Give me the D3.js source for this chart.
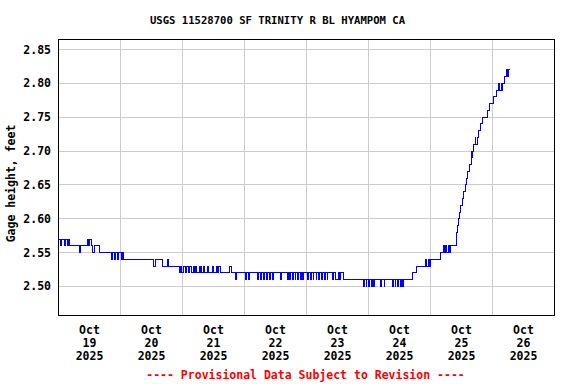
<!DOCTYPE html>
<html>
<head>
<meta charset="utf-8">
<script src="https://cdn.jsdelivr.net/npm/d3@7"></script>
<style>
  body { margin: 0; background: #fff; }
  text { font-family: "DejaVu Sans Mono", "Liberation Mono", monospace; font-weight: bold; }
</style>
</head>
<body>
<div id="chart-area"></div>
<script>

// Gage height readings, [hours after Oct 19 2025 00:00, feet], each value holds until the next one
var gageSteps = [
    [0, 2.57], [0.6, 2.56], [1.0, 2.57], [2.2, 2.56], [2.6, 2.57], [3.6, 2.56], [4.0, 2.57], [4.45, 2.56],
    [8.1, 2.55], [8.7, 2.56],
    [11.2, 2.57], [11.6, 2.56], [12.0, 2.57], [12.7, 2.56],
    [13.2, 2.55], [13.8, 2.56],
    [16.0, 2.55],
    [20.5, 2.54], [20.9, 2.55], [21.8, 2.54], [22.2, 2.55], [23.0, 2.54], [23.4, 2.55], [24.2, 2.54], [24.6, 2.55], [25.0, 2.54],
    [36.8, 2.53], [37.5, 2.54], [40.1, 2.53], [42.0, 2.54], [42.4, 2.53],
    [46.8, 2.52], [47.3, 2.53], [47.6, 2.52], [48.4, 2.53], [49.2, 2.52], [49.5, 2.53], [50.3, 2.52], [50.9, 2.53], [51.5, 2.52], [52.3, 2.53], [52.6, 2.52], [53.2, 2.53], [53.6, 2.52],
    [54.4, 2.53], [54.8, 2.52], [55.0, 2.53], [55.3, 2.52],
    [56.1, 2.53], [56.5, 2.52], [57.5, 2.53], [58.1, 2.52],
    [59.6, 2.53], [60.0, 2.52], [61.2, 2.53], [61.6, 2.52], [62.0, 2.53], [62.7, 2.52],
    [66.2, 2.53], [66.8, 2.52],
    [68.7, 2.51], [69.0, 2.52], [72.5, 2.51], [72.8, 2.52], [73.6, 2.51], [73.9, 2.52],
    [77.0, 2.51], [77.3, 2.52], [78.2, 2.51], [78.5, 2.52], [79.4, 2.51], [79.7, 2.52], [80.6, 2.51], [80.9, 2.52],
    [81.8, 2.51], [82.1, 2.52], [83.0, 2.51], [83.3, 2.52],
    [85.9, 2.51], [86.2, 2.52],
    [88.6, 2.51], [88.9, 2.52], [89.6, 2.51], [89.9, 2.52], [90.6, 2.51], [90.9, 2.52], [91.6, 2.51], [91.9, 2.52], [92.6, 2.51], [92.9, 2.52], [93.6, 2.51], [93.9, 2.52],
    [94.5, 2.51], [94.8, 2.52],
    [96.4, 2.51], [96.7, 2.52], [97.5, 2.51], [97.8, 2.52], [98.6, 2.51], [98.9, 2.52], [99.7, 2.51], [100.0, 2.52],
    [100.8, 2.51], [101.1, 2.52], [101.9, 2.51], [102.2, 2.52], [103.0, 2.51], [103.3, 2.52], [104.0, 2.51], [104.3, 2.52],
    [106.1, 2.51], [106.4, 2.52],
    [107.2, 2.51], [108.3, 2.52], [108.7, 2.51], [109.0, 2.52], [110.2, 2.51],
    [118.1, 2.50], [118.4, 2.51], [119.1, 2.50], [119.4, 2.51], [120.1, 2.50], [120.4, 2.51],
    [121.1, 2.50], [121.4, 2.51], [122.1, 2.50], [122.4, 2.51],
    [124.8, 2.50], [125.1, 2.51], [126.0, 2.50], [126.3, 2.51],
    [129.3, 2.50], [129.6, 2.51], [130.3, 2.50], [130.6, 2.51], [131.3, 2.50], [131.6, 2.51], [132.3, 2.50], [132.6, 2.51],
    [133.3, 2.50], [133.6, 2.51],
    [137.1, 2.52], [138.4, 2.53],
    [142.1, 2.54], [142.5, 2.53], [143.1, 2.54], [143.5, 2.53], [144.1, 2.54],
    [147.9, 2.55], [148.9, 2.56], [149.3, 2.55], [149.9, 2.56], [150.3, 2.55], [151.0, 2.56], [151.3, 2.55], [151.7, 2.56],
    [153.9, 2.57], [154.2, 2.58], [154.6, 2.59], [154.9, 2.60], [155.2, 2.61], [155.6, 2.62], [156.2, 2.63], [156.8, 2.64],
    [157.6, 2.65], [158.0, 2.66], [158.5, 2.67], [159.1, 2.68], [159.7, 2.69], [160.0, 2.70], [160.2, 2.69], [160.4, 2.70],
    [160.8, 2.71], [161.3, 2.72], [161.6, 2.71], [162.0, 2.72], [162.6, 2.73], [163.5, 2.74], [164.3, 2.75], [166.1, 2.76],
    [167.0, 2.77], [168.5, 2.78], [169.4, 2.79], [170.5, 2.80], [170.7, 2.79], [171.3, 2.80], [171.5, 2.79], [172.0, 2.80],
    [172.6, 2.81], [173.5, 2.82], [173.7, 2.81], [174.0, 2.82], [174.7, 2.82]
];

var yTicks = [2.50, 2.55, 2.60, 2.65, 2.70, 2.75, 2.80, 2.85];
var dayLabels = ["19", "20", "21", "22", "23", "24", "25", "26"];
var monthLabel = "Oct";
var yearLabel = "2025";

var titleText = "USGS 11528700 SF TRINITY R BL HYAMPOM CA";
var yTitle = "Gage height, feet";
var footerText = "---- Provisional Data Subject to Revision ----";

// Set up SVG
var svgWidth = 576, svgHeight = 384;
var plot = {left: 58.5, right: 554.5, top: 39.5, bottom: 315.5};

var svg = d3.select("#chart-area").append("svg")
    .attr("width", svgWidth)
    .attr("height", svgHeight);

var startDate = new Date(2025, 9, 19);
var endDate = d3.timeDay.offset(startDate, 8);

var x = d3.scaleTime()
    .domain([startDate, endDate])
    .range([plot.left, plot.right]);

var y = d3.scaleLinear()
    .domain([2.45717, 2.86477])
    .range([plot.bottom, plot.top]);

var data = gageSteps.map(function(d) {
    return {date: new Date(startDate.getTime() + d[0] * 3600e3), value: d[1]};
});

// Grid
var midnights = d3.timeDay.range(d3.timeDay.offset(startDate, 1), endDate);

svg.append("g")
    .selectAll("line")
    .data(midnights)
    .enter()
    .append("line")
    .attr("x1", function(d) { return Math.round(x(d) - 0.5) + 0.5; })
    .attr("x2", function(d) { return Math.round(x(d) - 0.5) + 0.5; })
    .attr("y1", plot.top)
    .attr("y2", plot.bottom)
    .attr("stroke", "#cccccc")
    .attr("shape-rendering", "crispEdges");

svg.append("g")
    .selectAll("line")
    .data(yTicks)
    .enter()
    .append("line")
    .attr("x1", plot.left)
    .attr("x2", plot.right)
    .attr("y1", function(d) { return Math.round(y(d) - 0.5) + 0.5; })
    .attr("y2", function(d) { return Math.round(y(d) - 0.5) + 0.5; })
    .attr("stroke", "#cccccc")
    .attr("shape-rendering", "crispEdges");

// Data line
var line = d3.line()
    .curve(d3.curveStepAfter)
    .x(function(d) { return x(d.date); })
    .y(function(d) { return y(d.value); });

svg.append("path")
    .datum(data)
    .attr("d", line)
    .attr("fill", "none")
    .attr("stroke", "#0000ff")
    .attr("stroke-width", 1)
    .attr("shape-rendering", "crispEdges");

// Frame
svg.append("rect")
    .attr("x", plot.left)
    .attr("y", plot.top)
    .attr("width", plot.right - plot.left)
    .attr("height", plot.bottom - plot.top)
    .attr("fill", "none")
    .attr("stroke", "#000")
    .attr("stroke-width", 1)
    .attr("shape-rendering", "crispEdges");

// Y tick labels
svg.append("g")
    .selectAll("text")
    .data(yTicks)
    .enter()
    .append("text")
    .attr("x", 51)
    .attr("y", function(d) { return y(d) + 4; })
    .attr("text-anchor", "end")
    .attr("font-size", "11.5px")
    .text(function(d) { return d3.format(".2f")(d); });

// X tick labels, centred on noon of each day
var dayLabel = svg.append("g")
    .selectAll("text")
    .data(dayLabels)
    .enter()
    .append("text")
    .attr("text-anchor", "middle")
    .attr("font-size", "11.5px")
    .attr("transform", function(d, i) {
        var noon = d3.timeHour.offset(d3.timeDay.offset(startDate, i), 12);
        return "translate(" + x(noon) + ",0)";
    });

dayLabel.append("tspan").attr("x", 0).attr("y", 334).text(monthLabel);
dayLabel.append("tspan").attr("x", 0).attr("y", 347).text(function(d) { return d; });
dayLabel.append("tspan").attr("x", 0).attr("y", 360).text(yearLabel);

// Titles
svg.append("text")
    .attr("x", 277.5)
    .attr("y", 24)
    .attr("text-anchor", "middle")
    .attr("font-size", "10.6px")
    .text(titleText);

svg.append("text")
    .attr("transform", "translate(15,183.5) rotate(-90)")
    .attr("text-anchor", "middle")
    .attr("font-size", "11.5px")
    .text(yTitle);

svg.append("text")
    .attr("x", 305.5)
    .attr("y", 379)
    .attr("text-anchor", "middle")
    .attr("font-size", "11.5px")
    .attr("fill", "#ff0000")
    .text(footerText);

</script>
</body>
</html>
